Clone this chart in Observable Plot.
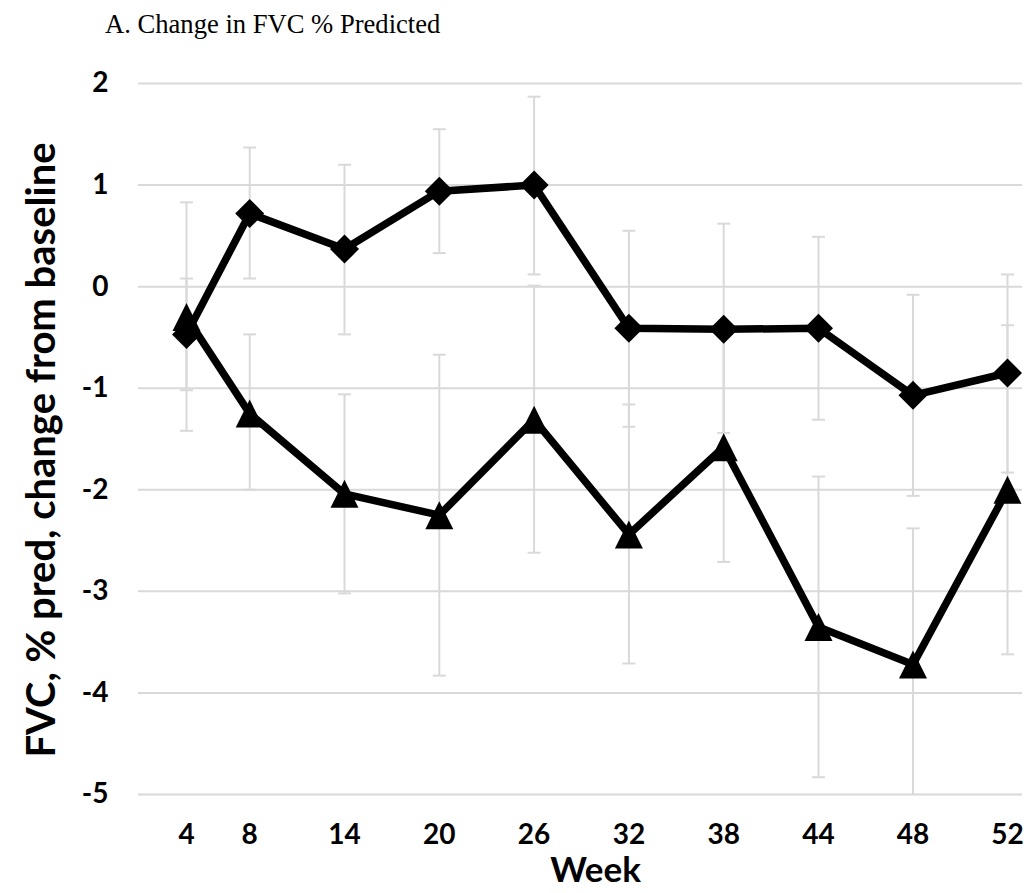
<!DOCTYPE html>
<html>
<head>
<meta charset="utf-8">
<script src="https://cdn.jsdelivr.net/npm/d3@7"></script>
<script src="https://cdn.jsdelivr.net/npm/@observablehq/plot@0.6"></script>
<style>
  html, body { margin: 0; padding: 0; background: #fff; }
  #title { height: 50px; box-sizing: border-box; padding-left: 105px; padding-top: 9px;
           font-family: "Liberation Serif", "Times New Roman", serif; font-size: 26.6px; line-height: 30px; color: #000; white-space: nowrap; }
  #chart svg { display: block; }
</style>
</head>
<body>
<div id="title">A. Change in FVC % Predicted</div>
<div id="chart"></div>
<script>
// Data
const weeks = [4, 8, 14, 20, 26, 32, 38, 44, 48, 52];
const diamondMean = [-0.47, 0.72, 0.37, 0.94, 1.0, -0.41, -0.42, -0.41, -1.07, -0.85];
const diamondLow  = [-1.02, 0.08, -0.47, 0.33, 0.12, -1.38, -1.44, -1.31, -2.06, -1.83];
const diamondHigh = [0.08, 1.37, 1.20, 1.55, 1.87, 0.55, 0.62, 0.49, -0.08, 0.12];
const triangleMean = [-0.30, -1.25, -2.04, -2.25, -1.31, -2.44, -1.58, -3.35, -3.72, -2.00];
const triangleLow  = [-1.42, -2.00, -3.02, -3.83, -2.62, -3.71, -2.71, -4.83, -5.06, -3.62];
const triangleHigh = [0.83, -0.47, -1.06, -0.67, 0.01, -1.16, -0.45, -1.87, -2.38, -0.38];
const yTicks = [-5, -4, -3, -2, -1, 0, 1, 2];
const xLabel = "Week";
const yLabel = "FVC, % pred, change from baseline";

const diamondRows = weeks.map((w, i) => ({week: w, mean: diamondMean[i], low: diamondLow[i], high: diamondHigh[i]}));
const triangleRows = weeks.map((w, i) => ({week: w, mean: triangleMean[i], low: triangleLow[i], high: triangleHigh[i]}));

const capSymbol = {draw(ctx, size) { const r = Math.sqrt(size / Math.PI); ctx.moveTo(-r, 0); ctx.lineTo(r, 0); }};
const diamondSymbol = {draw(ctx, size) { const r = Math.sqrt(size / Math.PI); ctx.moveTo(0, -r); ctx.lineTo(r, 0); ctx.lineTo(0, r); ctx.lineTo(-r, 0); ctx.closePath(); }};
const triangleSymbol = {draw(ctx, size) { const r = Math.sqrt(size / Math.PI); ctx.moveTo(0, -r); ctx.lineTo(r, r); ctx.lineTo(-r, r); ctx.closePath(); }};

const grid = "#d9d9d9";
const font = "Lato, 'Open Sans', sans-serif";

function errorMarks(rows) {
  return [
    Plot.ruleX(rows, {x: "week", y1: "low", y2: "high", stroke: grid, strokeWidth: 2, clip: true}),
    Plot.dot(rows.filter(d => d.low >= -5), {x: "week", y: "low", symbol: capSymbol, r: 6.5, stroke: grid, strokeWidth: 2, fill: "none"}),
    Plot.dot(rows, {x: "week", y: "high", symbol: capSymbol, r: 6.5, stroke: grid, strokeWidth: 2, fill: "none"})
  ];
}

const chart = Plot.plot({
  width: 1028,
  height: 843,
  marginLeft: 138,
  marginRight: 6,
  marginTop: 33,
  marginBottom: 99,
  style: {fontFamily: font, fontWeight: "bold", color: "#000", background: "#fff"},
  x: {type: "linear", domain: [4, 44, 52], range: [186, 818, 1007]},
  y: {domain: [-5, 2]},
  marks: [
    Plot.ruleY(yTicks, {stroke: grid, strokeWidth: 2}),
    ...errorMarks(diamondRows),
    ...errorMarks(triangleRows),
    Plot.line(diamondRows, {x: "week", y: "mean", stroke: "#000", strokeWidth: 7.5, strokeLinejoin: "round"}),
    Plot.line(triangleRows, {x: "week", y: "mean", stroke: "#000", strokeWidth: 7.5, strokeLinejoin: "round"}),
    Plot.dot(diamondRows, {x: "week", y: "mean", symbol: diamondSymbol, r: 14.5, fill: "#000", stroke: "none"}),
    Plot.dot(triangleRows, {x: "week", y: "mean", symbol: triangleSymbol, r: 14, fill: "#000", stroke: "none"}),
    Plot.axisY({ticks: yTicks, tickSize: 0, tickPadding: 30, label: null, tickFormat: d => String(d), fontSize: 28, fontWeight: "bold"}),
    Plot.axisX({ticks: weeks, tickSize: 0, tickPadding: 30, label: null, tickFormat: d => String(d), fontSize: 28, fontWeight: "bold"}),
    Plot.text([xLabel], {frameAnchor: "bottom", dx: 15, dy: 76, lineAnchor: "middle", fontSize: 35, fontWeight: "bold", fill: "#000"}),
    Plot.text([yLabel], {frameAnchor: "left", textAnchor: "middle", rotate: -90, dx: -96, dy: 11, lineAnchor: "middle", fontSize: 40, fontWeight: "bold", fill: "#000"})
  ]
});
document.getElementById("chart").appendChild(chart);
</script>
</body>
</html>
